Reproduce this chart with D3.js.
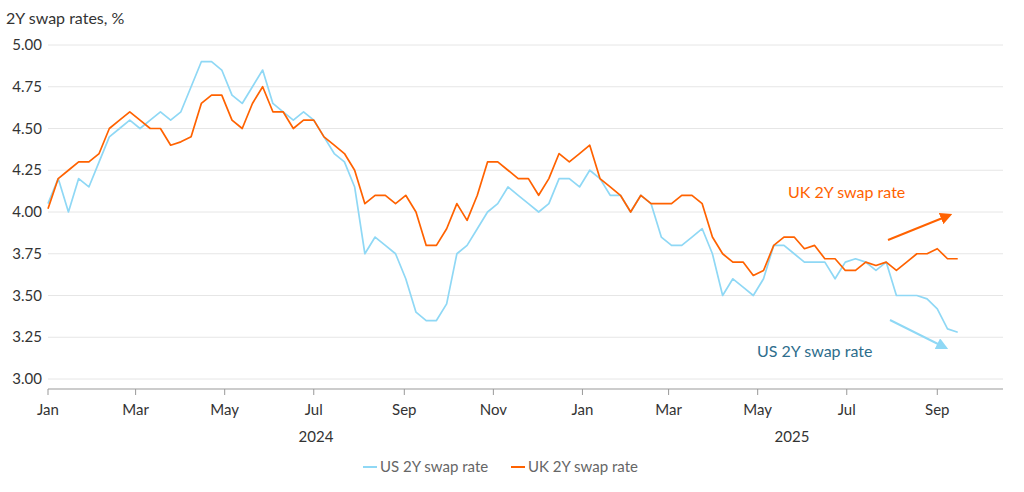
<!DOCTYPE html>
<html><head><meta charset="utf-8">
<script src="https://cdn.jsdelivr.net/npm/d3@7"></script>
<style>body{margin:0;background:#fff;font-family:Lato,"Noto Sans",sans-serif}</style>
</head><body><svg width="1024" height="492"></svg>
<script>
// weekly readings, starting Mon 1 Jan 2024
var startDate = new Date(2024, 0, 1);
var usRates = [4.05,4.2,4.0,4.2,4.15,4.3,4.45,4.5,4.55,4.5,4.55,4.6,4.55,4.6,4.75,4.9,4.9,4.85,4.7,4.65,4.75,4.85,4.65,4.6,4.55,4.6,
  4.55,4.45,4.35,4.3,4.15,3.75,3.85,3.8,3.75,3.6,3.4,3.35,3.35,3.45,3.75,3.8,3.9,4.0,4.05,4.15,4.1,4.05,4.0,4.05,4.2,4.2,4.15,
  4.25,4.2,4.1,4.1,4.0,4.1,4.05,3.85,3.8,3.8,3.85,3.9,3.75,3.5,3.6,3.55,3.5,3.6,3.8,3.8,3.75,3.7,3.7,3.7,3.6,3.7,3.72,3.7,3.65,3.7,
  3.5,3.5,3.5,3.48,3.42,3.3,3.28];
var ukRates = [4.02,4.2,4.25,4.3,4.3,4.35,4.5,4.55,4.6,4.55,4.5,4.5,4.4,4.42,4.45,4.65,4.7,4.7,4.55,4.5,4.65,4.75,4.6,4.6,4.5,4.55,
  4.55,4.45,4.4,4.35,4.25,4.05,4.1,4.1,4.05,4.1,4.0,3.8,3.8,3.9,4.05,3.95,4.1,4.3,4.3,4.25,4.2,4.2,4.1,4.2,4.35,4.3,4.35,
  4.4,4.2,4.15,4.1,4.0,4.1,4.05,4.05,4.05,4.1,4.1,4.05,3.85,3.75,3.7,3.7,3.62,3.65,3.8,3.85,3.85,3.78,3.8,3.72,3.72,3.65,3.65,3.7,3.68,3.7,
  3.65,3.7,3.75,3.75,3.78,3.72,3.72];
var yTicks = [3.0,3.25,3.5,3.75,4.0,4.25,4.5,4.75,5.0];
var seriesNames = ["US 2Y swap rate","UK 2Y swap rate"];
var seriesColors = ["#8fd8f5","#ff6200"];

var svg = d3.select("svg");
var pLeft = 48, pRight = 1003, pTop = 45, pBottom = 379;
var dates = usRates.map(function(d,i){ return d3.timeDay.offset(startDate, i*7); });
var x = d3.scaleTime().domain([new Date(2024,0,1), new Date(2025,9,16)]).range([pLeft, pRight]);
var y = d3.scaleLinear().domain([3,5]).range([pBottom, pTop]);

// gridlines
svg.selectAll(".grid").data(yTicks).enter().append("line")
  .attr("x1", pLeft).attr("x2", pRight)
  .attr("y1", function(d){return y(d);}).attr("y2", function(d){return y(d);})
  .attr("stroke", "#e6e6e6");
svg.selectAll(".ylab").data(yTicks).enter().append("text")
  .attr("x", 42).attr("y", function(d){return y(d)+5;})
  .attr("text-anchor","end").attr("font-size",15).attr("fill","#333")
  .text(function(d){return d.toFixed(2);});
svg.append("text").attr("x",6).attr("y",24).attr("font-size",16).attr("fill","#333").text("2Y swap rates, %");

// x axis
svg.append("line").attr("x1",pLeft).attr("x2",pRight).attr("y1",pBottom+10).attr("y2",pBottom+10).attr("stroke","#999");
var months = d3.timeMonth.every(2).range(new Date(2024,0,1), new Date(2025,9,2));
svg.selectAll(".xt").data(months).enter().append("line")
  .attr("x1",function(d){return x(d);}).attr("x2",function(d){return x(d);})
  .attr("y1",pBottom+10).attr("y2",pBottom+16).attr("stroke","#999");
svg.selectAll(".xl").data(months).enter().append("text")
  .attr("x",function(d){return x(d);}).attr("y",pBottom+36).attr("text-anchor","middle")
  .attr("font-size",15).attr("fill","#333").text(d3.timeFormat("%b"));
svg.append("text").attr("x",316).attr("y",pBottom+63).attr("text-anchor","middle").attr("font-size",15).attr("fill","#333").text("2024");
svg.append("text").attr("x",792).attr("y",pBottom+63).attr("text-anchor","middle").attr("font-size",15).attr("fill","#333").text("2025");

var line = d3.line().x(function(d,i){return x(dates[i]);}).y(function(d){return y(d);});
[usRates, ukRates].forEach(function(s,k){
  svg.append("path").datum(s).attr("d",line).attr("fill","none")
    .attr("stroke",seriesColors[k]).attr("stroke-width",1.7).attr("stroke-linejoin","round");
});

// annotations
svg.append("defs").selectAll("marker").data(seriesColors).enter().append("marker")
  .attr("id",function(d,i){return "ar"+i;}).attr("viewBox","0 0 10 10").attr("refX",8).attr("refY",5)
  .attr("markerWidth",6).attr("markerHeight",6).attr("orient","auto")
  .append("path").attr("d","M0,0L10,5L0,10z").attr("fill",function(d){return d;});
svg.append("text").attr("x",788).attr("y",198).attr("font-size",16).attr("fill","#ff6200").text("UK 2Y swap rate");
svg.append("line").attr("x1",888).attr("y1",240).attr("x2",950).attr("y2",215).attr("stroke","#ff6200").attr("stroke-width",2).attr("marker-end","url(#ar1)");
svg.append("text").attr("x",757).attr("y",357).attr("font-size",16).attr("fill","#2d6d8c").text("US 2Y swap rate");
svg.append("line").attr("x1",890).attr("y1",320).attr("x2",946).attr("y2",348).attr("stroke","#8fd8f5").attr("stroke-width",2).attr("marker-end","url(#ar0)");

// legend
var lg = svg.append("g").attr("transform","translate(363,467)");
seriesNames.forEach(function(n,k){
  var ox = k*148;
  lg.append("line").attr("x1",ox).attr("x2",ox+14).attr("y1",0).attr("y2",0).attr("stroke",seriesColors[k]).attr("stroke-width",2);
  lg.append("text").attr("x",ox+17).attr("y",5).attr("font-size",15).attr("fill","#666").text(n);
});
</script></body></html>
